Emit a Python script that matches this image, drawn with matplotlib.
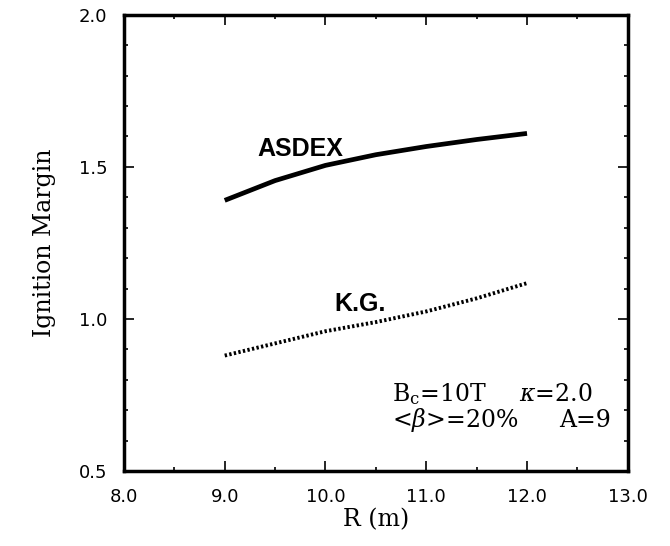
import matplotlib
matplotlib.use("Agg")
import matplotlib.pyplot as plt
from matplotlib.ticker import MultipleLocator

R = [9.0, 9.5, 10.0, 10.5, 11.0, 11.5, 12.0]
asdex = [1.39, 1.455, 1.505, 1.54, 1.567, 1.59, 1.61]
kg = [0.88, 0.92, 0.96, 0.99, 1.025, 1.068, 1.118]
xticks = [8.0, 9.0, 10.0, 11.0, 12.0, 13.0]
yticks = [0.5, 1.0, 1.5, 2.0]

plt.rcParams['mathtext.fontset'] = 'dejavuserif'
fig = plt.figure(figsize=(6.7, 5.46), dpi=100)
ax = fig.add_axes([0.185, 0.137, 0.752, 0.836])

ax.plot(R, asdex, color='black', lw=3.4, solid_capstyle='butt')
ax.plot(R, kg, color='black', lw=2.8, linestyle=(0, (0.6, 0.6)))

ax.set_xlim(8.0, 13.0)
ax.set_ylim(0.5, 2.0)
ax.set_xticks(xticks)
ax.set_yticks(yticks)
ax.set_xticklabels([f"{v:.1f}" for v in xticks], fontfamily='DejaVu Sans', fontsize=13)
ax.set_yticklabels([f"{v:.1f}" for v in yticks], fontfamily='DejaVu Sans', fontsize=13)
ax.xaxis.set_minor_locator(MultipleLocator(0.5))
ax.yaxis.set_minor_locator(MultipleLocator(0.1))
ax.tick_params(which='both', direction='in', top=True, right=True, width=1.2)
ax.tick_params(which='major', length=7)
ax.tick_params(axis='x', which='major', pad=12)
ax.tick_params(axis='y', which='major', pad=12)
ax.tick_params(which='minor', length=3)
for s in ax.spines.values():
    s.set_linewidth(2.5)

ax.set_xlabel('R (m)', fontfamily='DejaVu Serif', fontsize=17, labelpad=2)
ax.set_ylabel('Ignition Margin', fontfamily='DejaVu Serif', fontsize=17, labelpad=16)

ax.text(9.75, 1.56, 'ASDEX', fontfamily='Liberation Sans', fontweight='bold', fontsize=18,
        ha='center', va='center')
ax.text(10.34, 1.05, 'K.G.', fontfamily='Liberation Sans', fontweight='bold', fontsize=18,
        ha='center', va='center')

ax.text(10.66, 0.752, r'B$_\mathrm{c}$=10T', fontfamily='DejaVu Serif',
        fontsize=17, ha='left', va='center')
ax.text(11.92, 0.752, r'$\kappa$=2.0', fontfamily='DejaVu Serif',
        fontsize=17, ha='left', va='center')
ax.text(10.66, 0.668, r'<$\beta$>=20%', fontfamily='DejaVu Serif',
        fontsize=17, ha='left', va='center')
ax.text(12.32, 0.668, r'A=9', fontfamily='DejaVu Serif',
        fontsize=17, ha='left', va='center')

fig.savefig('out.png', dpi=100)
